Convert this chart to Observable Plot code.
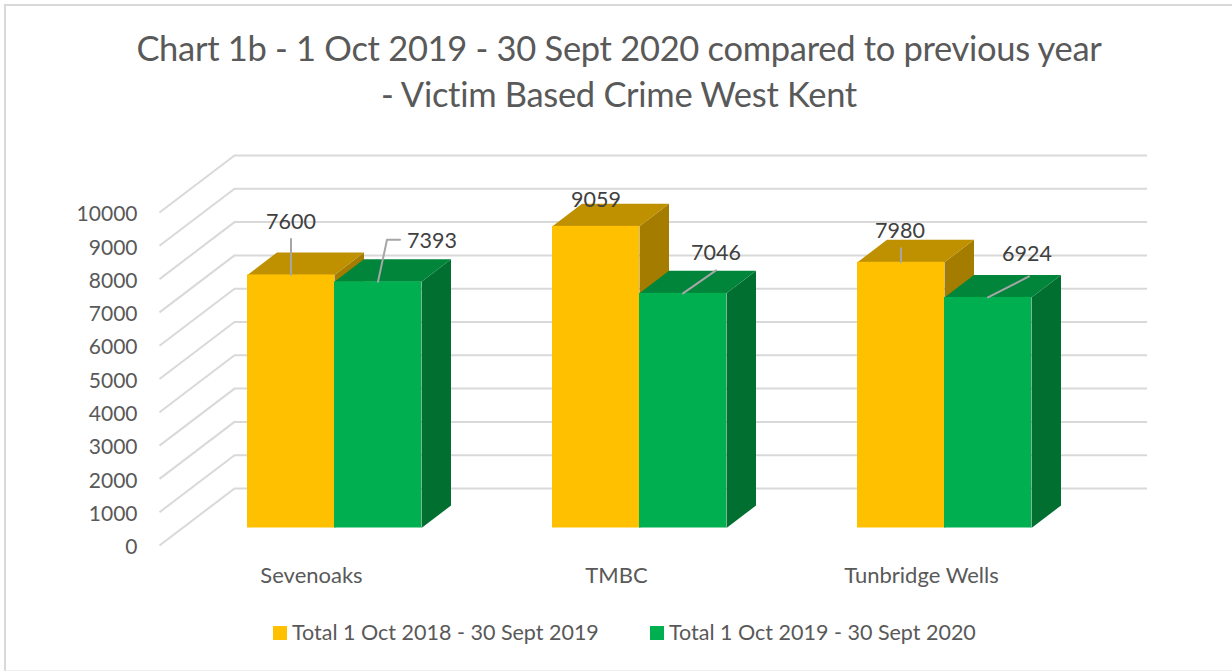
<!DOCTYPE html>
<html>
<head>
<meta charset="utf-8">
<script src="https://cdn.jsdelivr.net/npm/d3@7"></script>
<script src="https://cdn.jsdelivr.net/npm/@observablehq/plot@0.6"></script>
<style>
  html, body { margin: 0; padding: 0; background: #fff; }
  body { width: 1232px; height: 671px; position: relative; overflow: hidden; font-family: Lato, "Open Sans", sans-serif; color: #595959; }
  #frame { position: absolute; left: 4px; top: 4px; width: 1300px; height: 664px; border: 2px solid #d9d9d9; border-bottom-color: #efefef; box-sizing: content-box; pointer-events: none; }
  #title { position: relative; height: 130px; width: 1232px; box-sizing: border-box; padding-top: 25px; padding-left: 6px; text-align: center; font-size: 34.5px; letter-spacing: -0.3px; line-height: 46px; }
  #chart svg { display: block; }
  #chart { height: 470px; }
  #legend { position: relative; height: 71px; font-size: 21.5px; }
  #legend .sw { position: absolute; top: 26px; width: 14px; height: 14px; }
  #legend .lb { position: absolute; top: 18px; line-height: 28px; white-space: nowrap; }
</style>
</head>
<body>
<div id="frame"></div>
<div id="title">Chart 1b - 1 Oct 2019 - 30 Sept 2020 compared to previous year<br>- Victim Based Crime West Kent</div>
<div id="chart"></div>
<div id="legend"></div>
<script>
const categories = ["Sevenoaks", "TMBC", "Tunbridge Wells"];
const seriesNames = ["Total 1 Oct 2018 - 30 Sept 2019", "Total 1 Oct 2019 - 30 Sept 2020"];
const totals2019 = [7600, 9059, 7980];
const totals2020 = [7393, 7046, 6924];
const yTicks = [0, 1000, 2000, 3000, 4000, 5000, 6000, 7000, 8000, 9000, 10000];

// Palette: front, top, side for each series
const gold = {front: "#FFC000", top: "#BF9000", side: "#A47C00"};
const green = {front: "#00B050", top: "#00853B", side: "#006F30"};

// Layout of the pseudo-3D projection, in pixels
const pxPerCategory = 305, pxPerValue = 0.0333, firstCenterPx = 334;
const plotLeft = 137, plotRight = 1232, svgH = 470, baseY = 397.5;
const ux = (px) => px / pxPerCategory;
const uxAbs = (px) => (px - firstCenterPx) / pxPerCategory;
const vy = (px) => px / pxPerValue;
const barW = ux(87), depthX = ux(29.5), depthY = vy(22.5);
const wallDY = vy(57), wallShift = 17.5;

const bars = categories.flatMap((c, i) => [
  {i, s: 0, v: totals2019[i], x1: i - barW, x2: i},
  {i, s: 1, v: totals2020[i], x1: i, x2: i + barW}
]);

const topPoly = (b) => [[b.x1, b.v], [b.x2, b.v], [b.x2 + depthX, b.v + depthY], [b.x1 + depthX, b.v + depthY]]
  .map(([x, y]) => ({x, y, id: `${b.i}-${b.s}`}));
const sidePoly = (b) => [[b.x2, 0], [b.x2 + depthX, depthY], [b.x2 + depthX, b.v + depthY], [b.x2, b.v]]
  .map(([x, y]) => ({x, y, id: `${b.i}-${b.s}`}));

const polyMark = (polyFn, s, fill) => Plot.line(bars.filter((b) => b.s === s).flatMap(polyFn),
  {x: "x", y: "y", z: "id", fill, stroke: "none"});

// Data label placement (pixel offsets from the top-front centre of each bar) and leader lines
const labelOffsets = [
  {dx: 0, dy: -53, leader: [[0, 0], [0, -36]]},
  {dx: 54, dy: -41, leader: [[0, 0], [9, -42], [22, -42]]},
  {dx: 0, dy: -26, leader: []},
  {dx: 33, dy: -40, leader: [[0, 0], [33, -23]]},
  {dx: -1, dy: -31, leader: [[0, 0], [0, -14]]},
  {dx: 39, dy: -43, leader: [[0, 0], [41, -21]]}
];
const labels = bars.map((b, k) => {
  const c = (b.x1 + b.x2) / 2, o = labelOffsets[k];
  return {x: c + ux(o.dx), y: b.v - vy(o.dy), text: String(b.v),
    leader: o.leader.map(([dx, dy]) => ({x: c + ux(dx), y: b.v - vy(dy), id: k}))};
});

const chart = Plot.plot({
  width: 1232,
  height: svgH,
  marginLeft: plotLeft,
  marginRight: 0,
  marginTop: baseY - 333,
  marginBottom: svgH - baseY,
  style: {background: "transparent", fontFamily: "Lato, 'Open Sans', sans-serif", fontSize: "21px", color: "#595959", overflow: "visible"},
  x: {domain: [uxAbs(plotLeft), uxAbs(plotRight)]},
  y: {domain: [0, 10000]},
  marks: [
    // walls
    Plot.ruleY(yTicks, {y: (d) => d + wallDY, x1: uxAbs(234), x2: uxAbs(1147), dy: wallShift, stroke: "#d9d9d9", strokeWidth: 2}),
    Plot.link(yTicks, {x1: uxAbs(159), x2: uxAbs(234), y1: (d) => d, y2: (d) => d + wallDY, dy: wallShift, stroke: "#d9d9d9", strokeWidth: 2}),
    // axes
    Plot.axisY(yTicks, {anchor: "left", tickSize: 0, tickPadding: 0, dy: wallShift + 2, label: null, fontSize: 21, tickFormat: (d) => String(d), fill: "#595959"}),
    Plot.axisX([0, 1, 2], {anchor: "bottom", tickSize: 0, tickPadding: 0, dx: -23, dy: 39, label: null, fontSize: 22, tickFormat: (d) => categories[d], fill: "#595959"}),
    // gold sides/tops
    polyMark(sidePoly, 0, gold.side),
    polyMark(topPoly, 0, gold.top),
    // green sides/tops
    polyMark(sidePoly, 1, green.side),
    polyMark(topPoly, 1, green.top),
    // fronts
    Plot.rect(bars.filter((b) => b.s === 0), {x1: "x1", x2: "x2", y1: 0, y2: "v", fill: gold.front}),
    Plot.rect(bars.filter((b) => b.s === 1), {x1: "x1", x2: "x2", y1: 0, y2: "v", fill: green.front}),
    // leaders and labels
    Plot.line(labels.flatMap((l) => l.leader), {x: "x", y: "y", z: "id", stroke: "#a6a6a6", strokeWidth: 2}),
    Plot.text(labels, {x: "x", y: "y", text: "text", fontSize: 21.5, fill: "#404040"})
  ]
});
document.getElementById("chart").appendChild(chart);

const legend = document.getElementById("legend");
[[273, 292, gold.front], [650, 669, green.front]].forEach(([sx, tx, col], i) => {
  const s = document.createElement("div");
  s.className = "sw"; s.style.left = sx + "px"; s.style.background = col;
  const t = document.createElement("div");
  t.className = "lb"; t.style.left = tx + "px"; t.textContent = seriesNames[i];
  legend.append(s, t);
});
</script>
</body>
</html>
